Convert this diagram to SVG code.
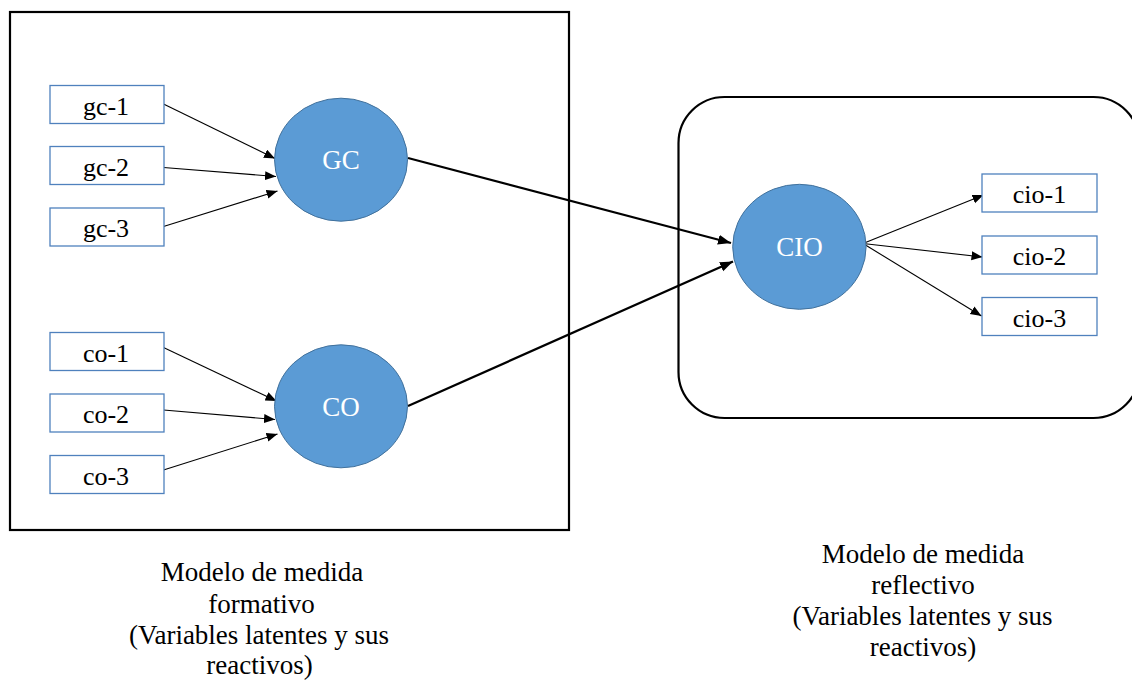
<svg xmlns="http://www.w3.org/2000/svg" width="1132" height="681" viewBox="0 0 1132 681">
  <defs>
    <marker id="arrow-thin" markerUnits="userSpaceOnUse" markerWidth="12" markerHeight="10" refX="11" refY="4.5" orient="auto">
      <path d="M0,0 L11,4.5 L0,9 Z" fill="#000"/>
    </marker>
    <marker id="arrow-thick" markerUnits="userSpaceOnUse" markerWidth="14" markerHeight="12" refX="13" refY="5" orient="auto">
      <path d="M0,0 L13,5 L0,10 Z" fill="#000"/>
    </marker>
  </defs>
  <style>
    text { font-family: 'Liberation Serif', Tinos, 'DejaVu Serif', serif; }
    .frame { fill: none; stroke: #000; stroke-width: 2.2; }
    .item rect { fill: #fff; stroke: #4f81bd; stroke-width: 1.3; }
    .item text { font-size: 26px; fill: #000; text-anchor: middle; }
    .latent ellipse { fill: #5b9bd5; stroke: #41719c; stroke-width: 1; }
    .latent text { font-size: 27px; fill: #fff; text-anchor: middle; }
    .thin { fill: none; stroke: #000; stroke-width: 1.1; marker-end: url(#arrow-thin); }
    .thick { fill: none; stroke: #000; stroke-width: 2.3; marker-end: url(#arrow-thick); }
    .caption { font-size: 27px; fill: #000; text-anchor: middle; }
  </style>

  <rect width="1132" height="681" fill="#fff"/>

  <!-- model frames -->
  <g id="frame-formative">
    <rect class="frame" x="10" y="12" width="559" height="518"/>
  </g>
  <g id="frame-reflective">
    <rect class="frame" x="678.5" y="97" width="461" height="321" rx="46" ry="46"/>
  </g>

  <!-- connectors -->
  <g id="connectors">
    <line class="thin" x1="163.5" y1="104" x2="275" y2="158.5"/>
    <line class="thin" x1="163.5" y1="167.5" x2="276" y2="176.5"/>
    <line class="thin" x1="163.5" y1="226.5" x2="277.5" y2="191"/>
    <line class="thin" x1="163.5" y1="347.5" x2="276.5" y2="401"/>
    <line class="thin" x1="163.5" y1="410" x2="275" y2="419.5"/>
    <line class="thin" x1="163.5" y1="470" x2="277.5" y2="434"/>
    <line class="thick" x1="408" y1="158" x2="731" y2="243"/>
    <line class="thick" x1="408" y1="406" x2="733" y2="261.5"/>
    <line class="thin" x1="863" y1="243.5" x2="983.5" y2="195"/>
    <line class="thin" x1="863" y1="243.5" x2="982.5" y2="257"/>
    <line class="thin" x1="863" y1="243.5" x2="981.5" y2="316"/>
  </g>

  <!-- formative indicators -->
  <g id="gc-1" class="item"><rect x="50" y="85.5" width="114" height="38"/><text x="106" y="114.5">gc-1</text></g>
  <g id="gc-2" class="item"><rect x="50" y="146.5" width="114" height="38"/><text x="106" y="175.5">gc-2</text></g>
  <g id="gc-3" class="item"><rect x="50" y="208" width="114" height="38"/><text x="106" y="237">gc-3</text></g>
  <g id="co-1" class="item"><rect x="50" y="332.5" width="114" height="38"/><text x="106" y="361.5">co-1</text></g>
  <g id="co-2" class="item"><rect x="50" y="394" width="114" height="38"/><text x="106" y="423">co-2</text></g>
  <g id="co-3" class="item"><rect x="50" y="455.5" width="114" height="38"/><text x="106" y="484.5">co-3</text></g>

  <!-- latent variables -->
  <g id="GC" class="latent"><ellipse cx="341" cy="159.7" rx="66.5" ry="61.5"/><text x="341" y="169">GC</text></g>
  <g id="CO" class="latent"><ellipse cx="341" cy="406.3" rx="66.5" ry="61.5"/><text x="341" y="415.5">CO</text></g>
  <g id="CIO" class="latent"><ellipse cx="799.4" cy="246.8" rx="66.7" ry="62.5"/><text x="799.4" y="256">CIO</text></g>

  <!-- reflective indicators -->
  <g id="cio-1" class="item"><rect x="982" y="174" width="115" height="38"/><text x="1039.5" y="203">cio-1</text></g>
  <g id="cio-2" class="item"><rect x="982" y="236" width="115" height="38"/><text x="1039.5" y="265">cio-2</text></g>
  <g id="cio-3" class="item"><rect x="982" y="297.5" width="115" height="38"/><text x="1039.5" y="326.5">cio-3</text></g>

  <!-- captions -->
  <g id="caption-formative">
    <text class="caption" x="262" y="581">Modelo de medida</text>
    <text class="caption" x="261.5" y="613">formativo</text>
    <text class="caption" x="259" y="644">(Variables latentes y sus</text>
    <text class="caption" x="259.5" y="674">reactivos)</text>
  </g>
  <g id="caption-reflective">
    <text class="caption" x="923" y="563">Modelo de medida</text>
    <text class="caption" x="923" y="594">reflectivo</text>
    <text class="caption" x="922.5" y="625">(Variables latentes y sus</text>
    <text class="caption" x="923" y="656">reactivos)</text>
  </g>
</svg>
